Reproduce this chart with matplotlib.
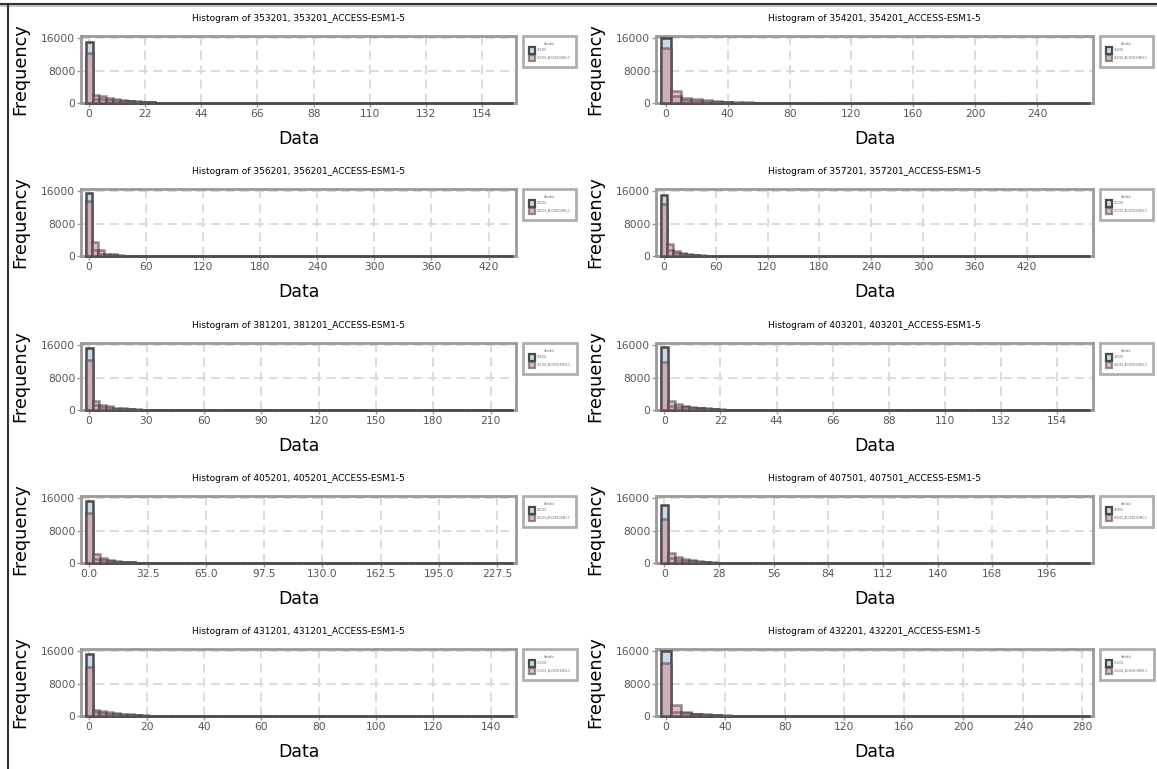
import numpy as np
import matplotlib.pyplot as plt
from matplotlib.patches import Patch
from matplotlib.lines import Line2D

# station ids, left-to-right then top-to-bottom
station_ids = ["353201", "354201", "356201", "357201", "381201",
               "403201", "405201", "407501", "431201", "432201"]
model_name = "ACCESS-ESM1-5"

# histogram bins (data units) and the largest value in each panel
bin_width = [2.7, 6.6, 6.5, 7.3, 3.6, 2.8, 3.9, 3.6, 2.4, 6.7]
x_max = [164, 273, 440, 490, 219, 166, 235, 216, 146, 283]

# x ticks: step and how many
tick_step = [22, 40, 60, 60, 30, 22, 32.5, 28, 20, 40]
n_ticks = [8, 7, 8, 8, 8, 8, 8, 8, 8, 8]

# counts per bin, first bins only (the rest are ~0)
obs_counts = [
    [15100, 1100, 900, 700, 550, 450, 400, 330, 250, 170, 100, 50, 20],
    [16000, 1660, 670, 500, 350, 250, 180, 120, 70, 30, 15],
    [15600, 1500, 600, 350, 200, 120, 70, 40, 20],
    [14900, 1500, 700, 400, 250, 150, 90, 50, 25],
    [15200, 1200, 700, 500, 350, 250, 170, 110, 60, 25],
    [15600, 1000, 800, 650, 500, 380, 280, 200, 120, 60, 25],
    [15300, 1100, 700, 450, 300, 200, 130, 80, 40, 20],
    [14200, 1200, 800, 550, 380, 260, 170, 110, 60, 30],
    [15300, 900, 700, 550, 420, 320, 240, 170, 100, 50, 20],
    [16000, 1100, 670, 400, 280, 190, 120, 70, 40, 20],
]
model_counts = [
    [12250, 2080, 1740, 1240, 990, 650, 550, 450, 330, 200, 110, 50, 20],
    [13600, 2980, 1240, 990, 670, 500, 350, 250, 140, 60, 25],
    [13500, 3400, 1500, 600, 400, 220, 120, 60, 30],
    [12700, 2900, 1300, 700, 400, 230, 130, 70, 30],
    [12200, 2300, 1300, 900, 600, 400, 260, 160, 80, 30],
    [11800, 2200, 1500, 1100, 800, 600, 420, 300, 170, 80, 30],
    [12200, 2100, 1200, 750, 480, 300, 190, 110, 60, 30],
    [10800, 2400, 1500, 1000, 650, 430, 280, 170, 90, 45],
    [12000, 1400, 1200, 900, 700, 520, 380, 260, 140, 70, 25],
    [13100, 2600, 1000, 600, 420, 280, 170, 100, 50, 25],
]

obs_color = "#c6dbef"
model_color = "#d48f9b"
edge_color = "#4a4a4a"
spine_color = "#9a9a9a"

fig = plt.figure(figsize=(11.57, 7.69), dpi=100)
W, H = 1157.0, 769.0

col_left = [81, 656]
col_width = [435, 437]
row_top = [36, 189, 343, 496, 649]
ax_height = 67

for i, sid in enumerate(station_ids):
    r, c = divmod(i, 2)
    ax = fig.add_axes([col_left[c] / W, 1 - (row_top[r] + ax_height) / H,
                       col_width[c] / W, ax_height / H])

    bw = bin_width[i]
    nb = int(np.ceil((x_max[i] + bw / 2) / bw))
    edges = -bw / 2 + np.arange(nb + 1) * bw
    obs = np.zeros(nb)
    mod = np.zeros(nb)
    obs[:len(obs_counts[i])] = obs_counts[i]
    mod[:len(model_counts[i])] = model_counts[i]

    ax.bar(edges[:-1], obs, width=bw, align="edge", color=obs_color,
           edgecolor=edge_color, linewidth=1.8, zorder=3, clip_on=False)
    ax.bar(edges[:-1], mod, width=bw, align="edge", color=model_color,
           alpha=0.6, edgecolor=edge_color, linewidth=1.8, zorder=4,
           clip_on=False)

    span = edges[-1] - edges[0]
    ax.set_xlim(edges[0] - 0.011 * span, edges[-1] + 0.008 * span)
    ax.set_ylim(0, 16500)
    ax.set_yticks([0, 8000, 16000])

    ticks = np.arange(n_ticks[i]) * tick_step[i]
    ax.set_xticks(ticks)
    if float(tick_step[i]).is_integer():
        ax.set_xticklabels([f"{t:.0f}" for t in ticks])
    else:
        ax.set_xticklabels([f"{t:.1f}" for t in ticks])

    ax.grid(True, linestyle=(0, (5, 3)), color="#d9d9d9", linewidth=1.3)
    ax.set_axisbelow(True)
    for s in ax.spines.values():
        s.set_color(spine_color)
        s.set_linewidth(2)
    ax.tick_params(colors=spine_color, labelcolor="#555555", labelsize=7.7,
                   length=3, width=1, pad=1)

    ax.set_title(f"Histogram of {sid}, {sid}_{model_name}", fontsize=6.5, pad=11)
    ax.set_ylabel("Frequency", fontsize=12.7, labelpad=9)
    ax.set_xlabel("Data", fontsize=12.5, labelpad=8)

    handles = [
        Patch(facecolor=obs_color, edgecolor=edge_color, linewidth=1.6),
        Patch(facecolor=model_color, alpha=0.6, edgecolor=edge_color, linewidth=1.6),
    ]
    leg = ax.legend(handles, [sid, f"{sid}_{model_name}"], title="Variable",
                    loc="upper left", bbox_to_anchor=(1.016, 1.0),
                    fontsize=2.0, title_fontsize=2.0, frameon=True,
                    fancybox=False, borderpad=2.1, labelspacing=0.5,
                    handlelength=2.4, handleheight=3.1, handletextpad=0.5,
                    borderaxespad=0, labelcolor="#666666")
    leg.get_title().set_color("#666666")
    leg.get_frame().set_edgecolor(spine_color)
    leg.get_frame().set_linewidth(2)

# outer frame lines (top and left)
fig.add_artist(Line2D([0, 1], [1 - 3.5 / H, 1 - 3.5 / H], color="#333333",
                      linewidth=1.5, transform=fig.transFigure))
fig.add_artist(Line2D([0, 1], [1 - 5.5 / H, 1 - 5.5 / H], color="#bbbbbb",
                      linewidth=1.2, transform=fig.transFigure))
fig.add_artist(Line2D([8 / W, 8 / W], [0, 1 - 3.5 / H], color="#333333",
                      linewidth=1.5, transform=fig.transFigure))

fig.savefig("out.png", dpi=100)
